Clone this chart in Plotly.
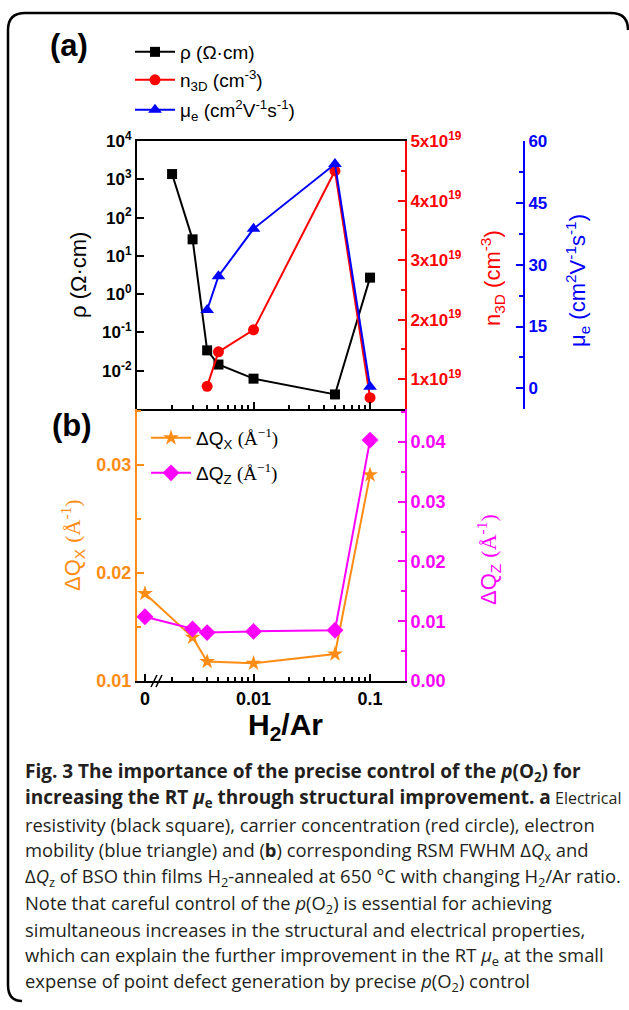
import plotly.graph_objects as go

W, H = 629, 1010
def X(px): return px / W
def Y(py): return 1 - py / H

# ---------------- data ----------------
H2AR_RHO = [0.002, 0.003, 0.004, 0.005, 0.01, 0.05, 0.1]
RHO = [1370, 27, 0.034, 0.0145, 0.0062, 0.0024, 2.7]
H2AR_N = [0.004, 0.005, 0.01, 0.05, 0.1]
N3D = [0.88e19, 1.46e19, 1.83e19, 4.50e19, 0.69e19]
H2AR_MU = [0.004, 0.005, 0.01, 0.05, 0.1]
MU = [19.0, 27.2, 38.7, 54.4, 0.4]
H2AR_B = [0, 0.003, 0.004, 0.01, 0.05, 0.1]
DQX = [0.0181, 0.01405, 0.0118, 0.01164, 0.0125, 0.0291]
DQZ = [0.01076, 0.0087, 0.0081, 0.0083, 0.0085, 0.0403]

RHO_TICKS = [1e-2, 1e-1, 1e0, 1e1, 1e2, 1e3, 1e4]
RHO_LABELS = ["10<sup>-2</sup>", "10<sup>-1</sup>", "10<sup>0</sup>", "10<sup>1</sup>",
              "10<sup>2</sup>", "10<sup>3</sup>", "10<sup>4</sup>"]
N_TICKS = [1e19, 2e19, 3e19, 4e19, 5e19]
N_LABELS = ["1x10<sup>19</sup>", "2x10<sup>19</sup>", "3x10<sup>19</sup>",
            "4x10<sup>19</sup>", "5x10<sup>19</sup>"]
MU_TICKS = [0, 15, 30, 45, 60]
DQX_TICKS = [0.01, 0.02, 0.03]
DQX_LABELS = ["0.01", "0.02", "0.03"]
DQZ_TICKS = [0.0, 0.01, 0.02, 0.03, 0.04]
DQZ_LABELS = ["0.00", "0.01", "0.02", "0.03", "0.04"]
X_TICK_LABELS = ["0", "0.01", "0.1"]

# position used for "0" on the broken log axis
ZERO_POS = 0.00117
def xmap(vals):
    return [ZERO_POS if v == 0 else v for v in vals]

X_MINOR = [0.002, 0.003, 0.004, 0.005, 0.006, 0.007, 0.008, 0.009,
           0.02, 0.03, 0.04, 0.05, 0.06, 0.07, 0.08, 0.09]

BLACK = "#000000"; RED = "#FF0000"; BLUE = "#0000FF"
ORANGE = "#FF8C14"; MAGENTA = "#FF00FF"
FONT = "Arial"
SERIF = "<span style='font-family:Liberation Serif, Times New Roman'>"

fig = go.Figure()
fig.add_trace(go.Scatter(x=H2AR_RHO, y=RHO, xaxis="x", yaxis="y", mode="lines+markers",
                         name="ρ (Ω·cm)", legend="legend", showlegend=True,
                         line=dict(color=BLACK, width=2),
                         marker=dict(symbol="square", size=10, color=BLACK)))
fig.add_trace(go.Scatter(x=H2AR_N, y=N3D, xaxis="x", yaxis="y2", mode="lines+markers",
                         name="n<sub>3D</sub> (cm<sup>-3</sup>)", legend="legend2", showlegend=True,
                         line=dict(color=RED, width=2),
                         marker=dict(symbol="circle", size=11, color=RED)))
fig.add_trace(go.Scatter(x=H2AR_MU, y=MU, xaxis="x", yaxis="y3", mode="lines+markers",
                         name="μ<sub>e</sub> (cm<sup>2</sup>V<sup>-1</sup>s<sup>-1</sup>)", legend="legend3",
                         showlegend=True,
                         line=dict(color=BLUE, width=2),
                         marker=dict(symbol="triangle-up", size=12, color=BLUE)))
fig.add_trace(go.Scatter(x=xmap(H2AR_B), y=DQX, xaxis="x2", yaxis="y4", mode="lines+markers",
                         name="ΔQ<sub>X</sub> " + SERIF + "(Å<sup>−1</sup>)</span>", legend="legend4",
                         showlegend=True,
                         line=dict(color=ORANGE, width=2),
                         marker=dict(symbol="star", size=12, color=ORANGE)))
fig.add_trace(go.Scatter(x=xmap(H2AR_B), y=DQZ, xaxis="x2", yaxis="y5", mode="lines+markers",
                         name="ΔQ<sub>Z</sub> " + SERIF + "(Å<sup>−1</sup>)</span>", legend="legend5",
                         showlegend=True,
                         line=dict(color=MAGENTA, width=2),
                         marker=dict(symbol="diamond", size=13, color=MAGENTA)))

xdom = [X(137), X(405)]
ya_dom = [Y(409), Y(141)]
yb_dom = [Y(681), Y(409)]
def tickfont(c, s=17):
    return dict(family=FONT, size=s, color=c, weight="bold")

common_x = dict(type="log", range=[-3, -0.7], showgrid=False, zeroline=False,
                showline=True, linecolor=BLACK, linewidth=2, ticks="inside",
                ticklen=7, tickwidth=2, tickcolor=BLACK, automargin=False,
                minor=dict(tickvals=X_MINOR, ticks="inside", ticklen=4, tickwidth=1.5, tickcolor=BLACK))
common_y = dict(showgrid=False, zeroline=False, showline=True, linewidth=2,
                ticks="inside", ticklen=7, tickwidth=2, automargin=False)

fig.update_layout(
    width=W, height=H, margin=dict(l=0, r=0, t=0, b=0, pad=0, autoexpand=False),
    paper_bgcolor="white", plot_bgcolor="rgba(0,0,0,0)",
    font=dict(family=FONT, color=BLACK),
    xaxis=dict(domain=xdom, anchor="y", showticklabels=False, mirror=True,
               tickvals=[0.01, 0.1], **common_x),
    xaxis2=dict(domain=xdom, anchor="y4", tickvals=[ZERO_POS, 0.01, 0.1],
                ticktext=X_TICK_LABELS, tickfont=tickfont(BLACK, 18), **common_x),
    yaxis=dict(domain=ya_dom, anchor="x", type="log", range=[-3, 4],
               tickvals=RHO_TICKS, ticktext=RHO_LABELS, tickfont=tickfont(BLACK),
               linecolor=BLACK, tickcolor=BLACK, **common_y),
    yaxis2=dict(overlaying="y", side="right", anchor="x", range=[0.5e19, 5e19],
                tickvals=N_TICKS, ticktext=N_LABELS, tickfont=tickfont(RED),
                linecolor=RED, tickcolor=RED, **common_y,
                minor=dict(tickvals=[1.5e19, 2.5e19, 3.5e19, 4.5e19], ticks="inside",
                           ticklen=4, tickwidth=1.5, tickcolor=RED)),
    yaxis3=dict(overlaying="y", side="right", anchor="free", position=X(524), range=[-5, 60],
                tickvals=MU_TICKS, tickfont=tickfont(BLUE),
                linecolor=BLUE, tickcolor=BLUE, **common_y,
                minor=dict(tickvals=[7.5, 22.5, 37.5, 52.5], ticks="inside",
                           ticklen=4, tickwidth=1.5, tickcolor=BLUE)),
    yaxis4=dict(domain=yb_dom, anchor="x2", range=[0.01, 0.0352],
                tickvals=DQX_TICKS, ticktext=DQX_LABELS, tickfont=tickfont(ORANGE, 18),
                linecolor=ORANGE, tickcolor=ORANGE, **common_y,
                minor=dict(tickvals=[0.015, 0.025, 0.035], ticks="inside",
                           ticklen=4, tickwidth=1.5, tickcolor=ORANGE)),
    yaxis5=dict(overlaying="y4", side="right", anchor="x2", range=[0, 0.0455],
                tickvals=DQZ_TICKS, ticktext=DQZ_LABELS, tickfont=tickfont(MAGENTA, 18),
                linecolor=MAGENTA, tickcolor=MAGENTA, **common_y,
                minor=dict(tickvals=[0.005, 0.015, 0.025, 0.035, 0.045], ticks="inside",
                           ticklen=4, tickwidth=1.5, tickcolor=MAGENTA)),
)

leg = dict(bgcolor="rgba(0,0,0,0)", borderwidth=0, xanchor="left", yanchor="middle",
           font=dict(family=FONT, size=19, color=BLACK), itemwidth=40)
fig.update_layout(
    legend=dict(x=X(130), y=Y(52), **leg),
    legend2=dict(x=X(130), y=Y(80), **leg),
    legend3=dict(x=X(130), y=Y(110), **leg),
    legend4=dict(x=X(146), y=Y(438), **leg),
    legend5=dict(x=X(146), y=Y(473), **leg),
)

ann = []
def add(text, x, y, size, color=BLACK, angle=0, xanchor="center", family=FONT, weight="normal"):
    ann.append(dict(text=text, x=X(x), y=Y(y), xref="paper", yref="paper", showarrow=False,
                    xanchor=xanchor, yanchor="middle", textangle=angle,
                    font=dict(family=family, size=size, color=color, weight=weight)))

add("(a)", 69, 45, 31, weight="bold")
add("(b)", 72, 426, 31, weight="bold")
add("ρ (Ω·cm)", 78, 275, 22, angle=-90)
add("n<sub>3D</sub> (cm<sup>-3</sup>)", 492, 278, 22, color=RED, angle=-90)
add("μ<sub>e</sub> (cm<sup>2</sup>V<sup>-1</sup>s<sup>-1</sup>)", 577, 281, 22, color=BLUE, angle=-90)
add("ΔQ<sub>X</sub> " + SERIF + "(Å<sup>-1</sup>)</span>", 72, 545, 22, color=ORANGE, angle=-90)
add("ΔQ<sub>Z</sub> " + SERIF + "(Å<sup>-1</sup>)</span>", 488, 560, 22, color=MAGENTA, angle=-90)
add("H<sub>2</sub>/Ar", 285, 726, 30, weight="bold")

B = '<span style="font-size:19px"><b>'
EB = '</b></span>'
CAPTION = [
    B + "Fig. 3 The importance of the precise control of the <i>p</i>(O<sub>2</sub>) for" + EB,
    B + "increasing the RT <i>μ</i><sub>e</sub> through structural improvement. a" + EB
      + '<span style="font-size:16px"> Electrical</span>',
    "resistivity (black square), carrier concentration (red circle), electron",
    "mobility (blue triangle) and (<b>b</b>) corresponding RSM FWHM Δ<i>Q</i><sub>x</sub> and",
    "Δ<i>Q</i><sub>z</sub> of BSO thin films H<sub>2</sub>-annealed at 650 °C with changing H<sub>2</sub>/Ar ratio.",
    "Note that careful control of the <i>p</i>(O<sub>2</sub>) is essential for achieving",
    "simultaneous increases in the structural and electrical properties,",
    "which can explain the further improvement in the RT <i>μ</i><sub>e</sub> at the small",
    "expense of point defect generation by precise <i>p</i>(O<sub>2</sub>) control",
]
for i, line in enumerate(CAPTION):
    add(line, 23, 772 + 26.3 * i, 18.4, color="#231F20", xanchor="left", family="Open Sans")

fig.update_layout(annotations=ann)

def p(px, py): return f"{X(px):.5f},{Y(py):.5f}"
shapes = [
    dict(type="path", xref="paper", yref="paper",
         path=f"M{p(628,30)} Q{p(628,13)} {p(611,13)} L{p(25,13)} Q{p(8,13)} {p(8,30)} "
              f"L{p(8,985)} Q{p(8,1001)} {p(22,1001)}",
         line=dict(color=BLACK, width=2.5)),
    dict(type="line", xref="paper", yref="paper", x0=X(151), y0=Y(687), x1=X(157), y1=Y(675),
         line=dict(color=BLACK, width=1.5)),
    dict(type="line", xref="paper", yref="paper", x0=X(156), y0=Y(687), x1=X(162), y1=Y(675),
         line=dict(color=BLACK, width=1.5)),
]
fig.update_layout(shapes=shapes)

fig.write_html("out.html", config={"displayModeBar": False},
               post_script="document.body.style.margin='0px';")
